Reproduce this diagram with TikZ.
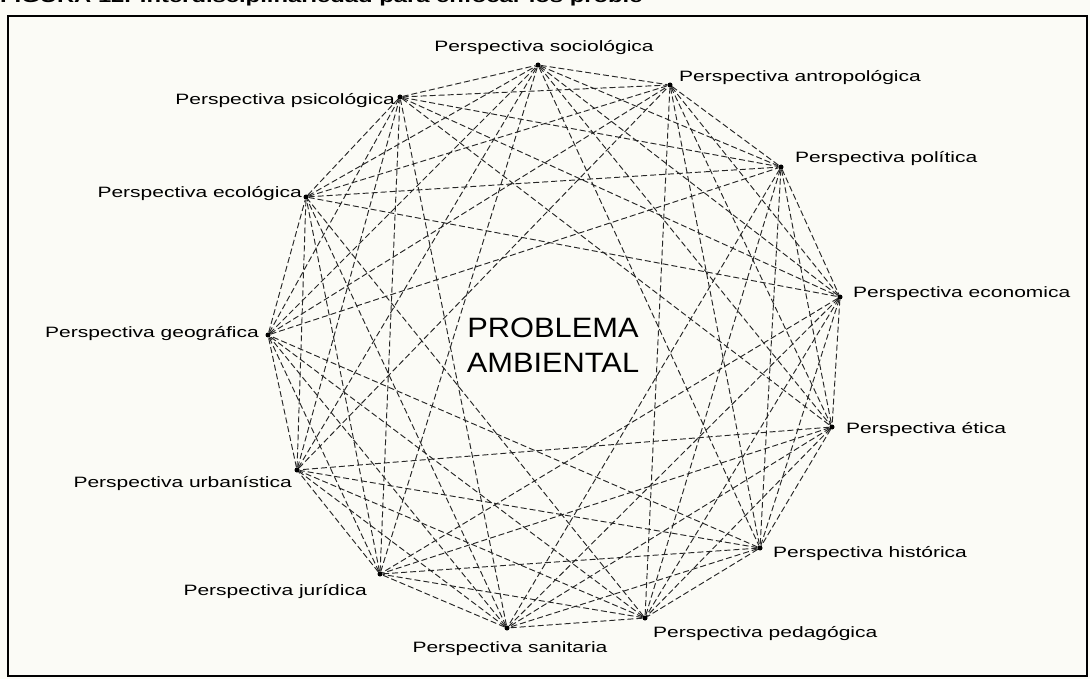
\documentclass[tikz,border=0pt]{standalone}
\usepackage{fontspec}
\setmainfont{Liberation Sans}
\newfontfamily\perspfont[FakeStretch=1.4]{Liberation Sans}
\newfontfamily\centrefont[FakeStretch=1.1]{Liberation Sans}
\usetikzlibrary{positioning}
\definecolor{paper}{RGB}{251,251,246}

\begin{document}
\begin{tikzpicture}[x=1pt, y=-1pt,
    dot/.style={circle, fill=black, inner sep=0pt, minimum size=5pt},
    persp/.style={inner sep=0pt, font=\perspfont\fontsize{15}{15}\selectfont},
    link/.style={dash pattern=on 6pt off 3pt, line width=0.95pt, black!85}
  ]
  \fill[paper] (0,0) rectangle (1090,679);
  \useasboundingbox (0,0) rectangle (1090,679);

  % title, cut by the top edge
  \node[anchor=base west, inner sep=0pt, font=\perspfont\bfseries\fontsize{17}{17}\selectfont] (titulo) at (0,3) {FIGURA 12. Interdisciplinariedad para enfocar los proble};

  % frame
  \draw[line width=1.3pt] (8,16) rectangle (1087,676);

  % perspectives, clockwise from the top
  \node[dot] (p1) at (538,65) {};
  \node[dot] (p2) at (670,85) {};
  \node[dot] (p3) at (781,167) {};
  \node[dot] (p4) at (840,297) {};
  \node[dot] (p5) at (832,427) {};
  \node[dot] (p6) at (760,548) {};
  \node[dot] (p7) at (645,618) {};
  \node[dot] (p8) at (507,628) {};
  \node[dot] (p9) at (380,574) {};
  \node[dot] (p10) at (297,470) {};
  \node[dot] (p11) at (268,335) {};
  \node[dot] (p12) at (306,197) {};
  \node[dot] (p13) at (400,97) {};

  % every perspective linked to its five neighbours on each side
  \foreach \i in {1,...,13}{
    \foreach \k in {1,...,5}{
      \pgfmathtruncatemacro{\j}{mod(\i+\k-1,13)+1}
      \draw[link] (p\i) -- (p\j);
    }
  }

  \node[persp, anchor=base] (socio) at (544,52) {Perspectiva sociológica};
  \node[persp, anchor=base west] (antro) at (679,82) {Perspectiva antropológica};
  \node[persp, anchor=base west] (polit) at (795,163) {Perspectiva política};
  \node[persp, anchor=base west] (econ) at (853,298) {Perspectiva economica};
  \node[persp, anchor=base west] (etica) at (846,433) {Perspectiva ética};
  \node[persp, anchor=base west] (hist) at (773,557) {Perspectiva histórica};
  \node[persp, anchor=base west] (pedag) at (653,637) {Perspectiva pedagógica};
  \node[persp, anchor=base] (sanit) at (510,652) {Perspectiva sanitaria};
  \node[persp, anchor=base east] (jurid) at (367,595) {Perspectiva jurídica};
  \node[persp, anchor=base east] (urban) at (292,487) {Perspectiva urbanística};
  \node[persp, anchor=base east] (geogr) at (259,337) {Perspectiva geográfica};
  \node[persp, anchor=base east] (ecol) at (302,198) {Perspectiva ecológica};
  \node[persp, anchor=base east] (psico) at (395,105) {Perspectiva psicológica};

  % centre
  \node[align=center, inner sep=0pt, font=\centrefont\fontsize{28}{35}\selectfont] (problema) at (553,345) {PROBLEMA\\AMBIENTAL};
\end{tikzpicture}
\end{document}
